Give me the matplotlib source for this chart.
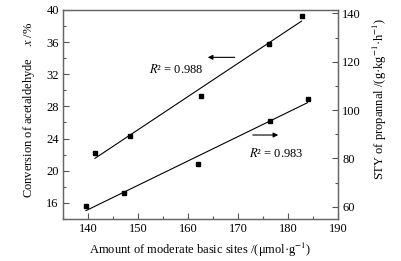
import numpy as np
import matplotlib
matplotlib.use("Agg")
import matplotlib.pyplot as plt
from matplotlib.ticker import MultipleLocator

plt.rcParams['font.family'] = ['Liberation Serif', 'DejaVu Serif']
plt.rcParams['mathtext.fontset'] = 'stix'
plt.rcParams['font.size'] = 9

# conversion of acetaldehyde (left axis)
x_conv = [141.4, 148.5, 162.6, 176.1, 182.7]
y_conv = [22.2, 24.3, 29.3, 35.7, 39.3]
# STY of propanal (right axis)
x_sty = [139.6, 147.2, 162.1, 176.3, 183.9]
y_sty = [60.4, 65.6, 77.9, 95.6, 104.6]

def fit_line(x, y):
    k, b = np.polyfit(x, y, 1)
    xs = np.array([min(x), max(x)])
    return xs, k * xs + b

fig = plt.figure(figsize=(4.01, 2.61), dpi=100)
ax = fig.add_axes([0.157, 0.161, 0.686, 0.801])
ax2 = ax.twinx()

ax.plot(x_conv, y_conv, 's', color='black', ms=3.5)
fx, fy = fit_line(x_conv, y_conv)
ax.plot(fx, fy, '-', color='black', lw=0.8)

ax2.plot(x_sty, y_sty, 's', color='black', ms=3.5)
fx, fy = fit_line(x_sty, y_sty)
ax2.plot(fx, fy, '-', color='black', lw=0.8)

ax.set_xlim(135, 190)
ax.set_ylim(14, 40)
ax2.set_ylim(55, 141.4)

ax.xaxis.set_major_locator(MultipleLocator(10))
ax.xaxis.set_minor_locator(MultipleLocator(5))
ax.yaxis.set_major_locator(MultipleLocator(4))
ax.yaxis.set_minor_locator(MultipleLocator(2))
ax2.yaxis.set_major_locator(MultipleLocator(20))
ax2.yaxis.set_minor_locator(MultipleLocator(10))

for a in (ax, ax2):
    a.tick_params(which='major', direction='in', length=4, width=0.8, color='#555555', pad=3)
    a.tick_params(which='minor', direction='in', length=2.5, width=0.8, color='#555555')
    for s in a.spines.values():
        s.set_color('#666666')
        s.set_linewidth(0.9)
ax.tick_params(axis='y', which='both', right=False)

ax.annotate('', xy=(163.4, 34.1), xytext=(169.9, 34.1),
            arrowprops=dict(arrowstyle='-|>', color='black', lw=0.8, mutation_scale=7))
ax.text(157.7, 32.6, '$R$² = 0.988', ha='center', va='center')
ax2.annotate('', xy=(178.6, 89.7), xytext=(172.4, 89.7),
             arrowprops=dict(arrowstyle='-|>', color='black', lw=0.8, mutation_scale=7))
ax2.text(177.7, 82.1, '$R$² = 0.983', ha='center', va='center')

ax.set_xlabel('Amount of moderate basic sites /(μmol·g$^{-1}$)', labelpad=4)
ax.set_ylabel('Conversion of acetaldehyde    $x$ /%', labelpad=4)
ax2.set_ylabel('STY of propannal /(g·kg$^{-1}$·h$^{-1}$)', labelpad=5)
ax.yaxis.set_label_coords(-0.095, 0.52)
ax2.yaxis.set_label_coords(1.12, 0.575)

fig.savefig('out.png', dpi=100)
